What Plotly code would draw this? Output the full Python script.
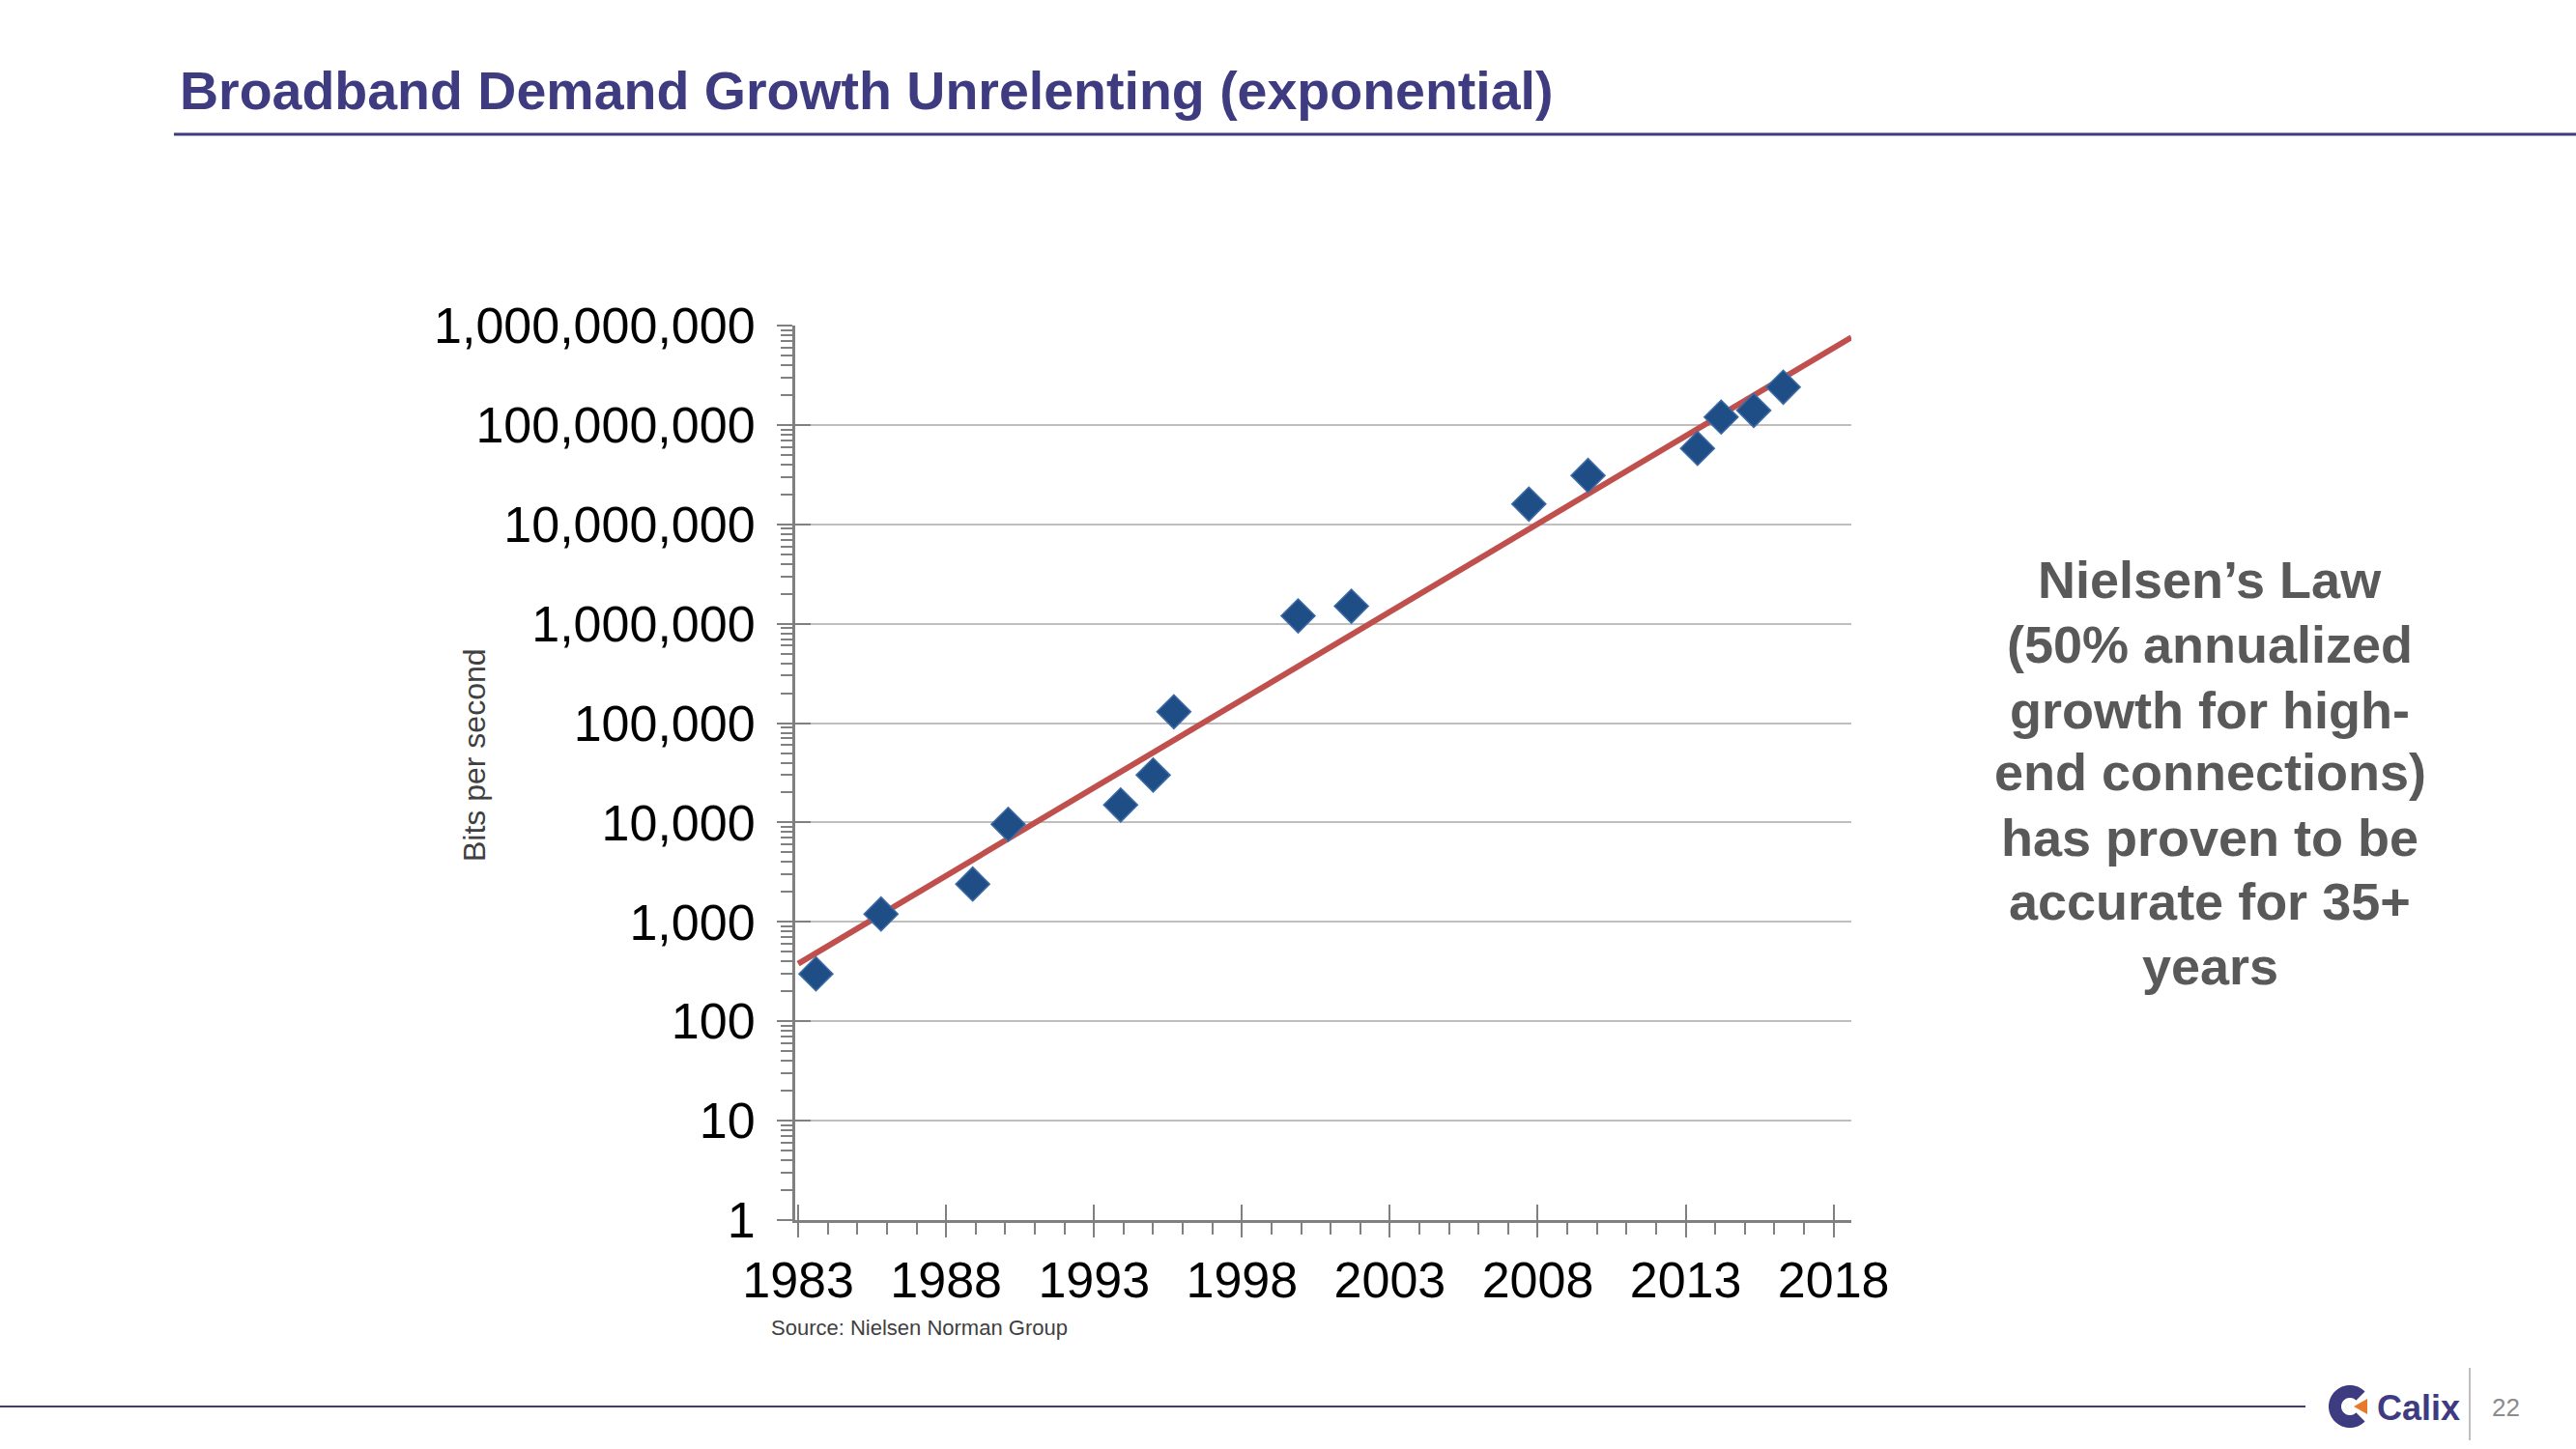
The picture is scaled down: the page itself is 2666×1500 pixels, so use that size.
import math
import plotly.graph_objects as go

# ---- data ----
years = [1983.6, 1985.8, 1988.9, 1990.1, 1993.9, 1995.0, 1995.7, 1999.9,
         2001.7, 2007.7, 2009.7, 2013.4, 2014.2, 2015.3, 2016.3]
bits_per_second = [300, 1200, 2400, 9600, 15000, 30000, 130000, 1200000,
                   1500000, 16000000, 31000000, 58000000, 120000000,
                   140000000, 240000000]
trend_years = [1983.0, 2018.6]
trend_values = [380, 760000000]

y_tickvals = [1, 10, 100, 1000, 10000, 100000, 1000000, 10000000,
              100000000, 1000000000]
y_ticktext = ["1", "10", "100", "1,000", "10,000", "100,000", "1,000,000",
              "10,000,000", "100,000,000", "1,000,000,000"]
x_tickvals = [1983, 1988, 1993, 1998, 2003, 2008, 2013, 2018]
x_ticktext = ["1983", "1988", "1993", "1998", "2003", "2008", "2013", "2018"]

side_lines = ["Nielsen’s Law", "(50% annualized", "growth for high-",
              "end connections)", "has proven to be", "accurate for 35+",
              "years"]

W, H = 2666, 1500
L, R, T, B = 823, 1916, 337, 1263
X_RANGE = [1982.9, 2018.6]
Y_RANGE = [0, 9]


def PX(x):
    return (x - L) / (R - L)


def PY(y):
    return (B - y) / (B - T)


FONT = "Liberation Sans, Arial, sans-serif"
PURPLE = "#3F3B80"
AXIS = "#808080"

fig = go.Figure()
fig.add_trace(go.Scatter(
    x=trend_years, y=trend_values, mode="lines",
    line=dict(color="#C0504D", width=6), hoverinfo="skip", showlegend=False))
fig.add_trace(go.Scatter(
    x=years, y=bits_per_second, mode="markers",
    marker=dict(symbol="diamond", size=27, color="#1F4E86",
                line=dict(color="#3D6BA6", width=1.5)),
    showlegend=False, cliponaxis=False))
# empty trace so the overlay axes (inner halves of major ticks) are drawn
fig.add_trace(go.Scatter(x=[], y=[], xaxis="x2", yaxis="y2",
                         showlegend=False, hoverinfo="skip"))

minor_y = [k * 10 ** d for d in range(9) for k in range(2, 10)]
minor_x = [y for y in range(1983, 2019)]

fig.update_layout(
    width=W, height=H,
    margin=dict(l=L, r=W - R, t=T, b=H - B),
    paper_bgcolor="white", plot_bgcolor="white",
    font=dict(family=FONT, color="black"),
    xaxis=dict(
        range=X_RANGE, tickmode="array", tickvals=x_tickvals,
        ticktext=x_ticktext, ticks="outside", ticklen=15, tickwidth=2,
        tickcolor=AXIS, showgrid=False, zeroline=False,
        showline=True, linecolor=AXIS, linewidth=3,
        tickfont=dict(size=52, color="black"), ticklabelstandoff=0,
        minor=dict(tickmode="array", tickvals=minor_x, ticks="outside",
                   ticklen=12, tickwidth=2, tickcolor=AXIS,
                   showgrid=False),
    ),
    yaxis=dict(
        type="log", range=Y_RANGE, tickmode="array", tickvals=y_tickvals,
        ticktext=y_ticktext, ticks="outside", ticklen=16, tickwidth=2,
        tickcolor=AXIS, showgrid=True, gridcolor="#BFBFBF",
        gridwidth=2, zeroline=False, showline=True, linecolor=AXIS,
        linewidth=3, tickfont=dict(size=52, color="black"),
        ticklabelstandoff=12,
        minor=dict(tickmode="array", tickvals=minor_y, ticks="outside",
                   ticklen=12, tickwidth=2, tickcolor=AXIS,
                   showgrid=False),
    ),
    xaxis2=dict(
        overlaying="x", anchor="y", side="bottom", range=X_RANGE,
        tickmode="array", tickvals=x_tickvals, ticks="inside", ticklen=16,
        tickwidth=2, tickcolor=AXIS, showticklabels=False, showgrid=False,
        zeroline=False, showline=False),
    yaxis2=dict(
        overlaying="y", anchor="x", side="left", type="log", range=Y_RANGE,
        tickmode="array", tickvals=y_tickvals, ticks="inside", ticklen=16,
        tickwidth=2, tickcolor=AXIS, showticklabels=False, showgrid=False,
        zeroline=False, showline=False),
)

shapes = [
    dict(type="line", xref="paper", yref="paper", x0=PX(180), x1=PX(2666),
         y0=PY(139), y1=PY(139), line=dict(color=PURPLE, width=3)),
    dict(type="line", xref="paper", yref="paper", x0=PX(0), x1=PX(2386),
         y0=PY(1456), y1=PY(1456), line=dict(color=PURPLE, width=2)),
    dict(type="line", xref="paper", yref="paper", x0=PX(2556), x1=PX(2556),
         y0=PY(1416), y1=PY(1491), line=dict(color="#BFBFBF", width=2)),
]

# Calix "C" mark (annulus sector) in pixel space
cx, cy, ro, ri = 2432, 1456, 22, 9
pts = []
for a in range(45, 316, 5):
    t = math.radians(a)
    pts.append((cx + ro * math.cos(t), cy - ro * math.sin(t)))
for a in range(315, 44, -5):
    t = math.radians(a)
    pts.append((cx + ri * math.cos(t), cy - ri * math.sin(t)))
path = "M " + " L ".join(f"{PX(x):.5f},{PY(y):.5f}" for x, y in pts) + " Z"
shapes.append(dict(type="path", xref="paper", yref="paper", path=path,
                   fillcolor=PURPLE, line=dict(width=0)))
tri = [(2436, 1456), (2450, 1448), (2450, 1464)]
tpath = "M " + " L ".join(f"{PX(x):.5f},{PY(y):.5f}" for x, y in tri) + " Z"
shapes.append(dict(type="path", xref="paper", yref="paper", path=tpath,
                   fillcolor="#E8792A", line=dict(width=0)))
fig.update_layout(shapes=shapes)

annotations = [
    dict(text="<b>Broadband Demand Growth Unrelenting (exponential)</b>",
         x=PX(184), y=PY(94), xanchor="left", yanchor="middle",
         font=dict(size=55.5, color=PURPLE, family=FONT)),
    dict(text="Bits per second", x=PX(491), y=PY(782), textangle=-90,
         xanchor="center", yanchor="middle",
         font=dict(size=32, color="#404040", family=FONT)),
    dict(text="Source: Nielsen Norman Group", x=PX(796), y=PY(1374),
         xanchor="left", yanchor="middle",
         font=dict(size=22, color="#404040", family=FONT)),
    dict(text="<b>Calix</b>", x=PX(2458), y=PY(1457), xanchor="left",
         yanchor="middle", font=dict(size=36, color=PURPLE, family=FONT)),
    dict(text="22", x=PX(2593), y=PY(1457), xanchor="center",
         yanchor="middle", font=dict(size=26, color="#8C8C8C", family=FONT)),
]
side_y = [600, 667, 735, 799, 867, 933, 1000]
for line, yy in zip(side_lines, side_y):
    annotations.append(dict(
        text=f"<b>{line}</b>", x=PX(2287), y=PY(yy), xanchor="center",
        yanchor="middle", font=dict(size=54, color="#595959", family=FONT)))
for a in annotations:
    a.setdefault("xref", "paper")
    a.setdefault("yref", "paper")
    a.setdefault("showarrow", False)
fig.update_layout(annotations=annotations)

fig.write_html("out.html", config={"displayModeBar": False},
               post_script="document.body.style.margin='0px';")
